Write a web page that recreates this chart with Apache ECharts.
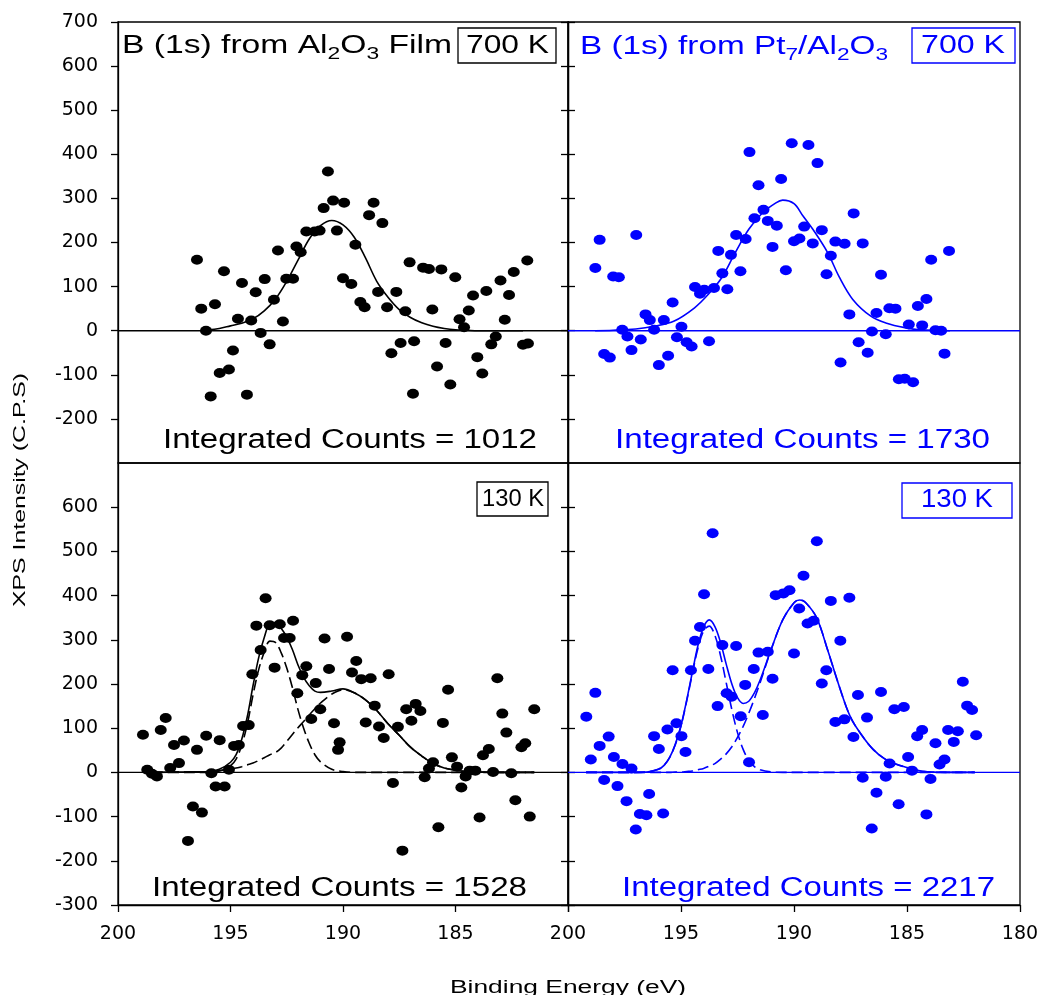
<!DOCTYPE html>
<html>
<head>
<meta charset="utf-8">
<script src="https://cdn.jsdelivr.net/npm/echarts@6/dist/echarts.min.js"></script>
<style>html,body{margin:0;padding:0;background:#fff}#chart{width:1044px;height:995px}</style>
</head>
<body>
<div id="chart"></div>
<script>
var BLACK = '#000000', BLUE = '#0000ff'
var FONT = '"Liberation Sans", Arial, sans-serif'

// ---- data: [binding energy (eV), intensity (C.P.S)] ----
var tlPoints = [[190.67,361],[190.44,295],[190.86,278],[189.95,290],[191.63,225],[191.26,225],[191.04,227],[190.27,227],
  [192.89,182],[192.07,191],[191.88,178],[196.49,161],[195.29,135],[194.49,108],[193.48,117],[193.88,87],[192.52,118],
  [192.22,118],[190.0,119],[193.07,70],[196.3,50],[195.69,60],[194.67,27],[194.08,23],[192.67,21],[196.09,0],[193.66,-5],
  [193.26,-31],[194.89,-45],[195.48,-96],[195.07,-88],[195.88,-149],[194.27,-145],
  [188.64,290],[188.84,262],[188.25,244],[189.45,195],[189.63,106],[189.23,65],[189.04,53],[188.44,88],[187.63,88],
  [188.04,53],[187.23,44],[187.04,155],[186.44,143],[186.18,140],[185.63,139],[185.01,121],[186.03,48],[184.82,26],
  [184.62,8],[184.22,80],[184.41,46],[183.63,90],[183.0,114],[182.41,133],[181.81,159],[182.62,81],[182.81,25],
  [183.21,-13],[183.41,-31],[182.0,-32],[181.78,-29],[187.44,-28],[187.85,-51],[186.84,-24],[185.44,-28],[185.82,-81],
  [184.03,-60],[183.81,-97],[185.23,-122],[186.89,-143]]

var trPoints = [[198.6,206],[198.79,142],[198.0,123],[197.75,121],[196.98,217],[198.4,-53],[198.15,-61],[197.19,-44],
  [197.6,2],[197.37,-13],[196.78,-20],[196.57,37],[196.38,24],[196.19,2],[195.76,24],[195.98,-78],[195.57,-57],[195.37,64],
  [194.98,9],[195.18,-15],[194.75,-26],[194.53,-36],[193.76,-24],[194.38,99],[194.16,84],[193.97,93],[193.54,97],
  [192.95,94],[193.35,181],[193.17,130],[192.79,172],[192.37,135],[192.56,217],[192.14,208],[191.75,255],[191.35,274],
  [191.16,249],[190.76,238],[190.95,190],[190.36,137],[191.97,405],[191.57,330],[190.57,344],[190.1,425],
  [189.36,421],[188.96,380],[190.0,203],[189.76,209],[189.55,236],[188.77,228],[189.17,198],[188.17,202],[187.76,197],
  [186.96,198],[187.36,266],[188.37,170],[188.56,128],[186.15,127],[187.55,37],[186.35,40],[185.78,51],[185.51,50],
  [186.55,-2],[185.94,-8],[187.14,-26],[186.74,-50],[187.94,-72],[184.92,14],[184.33,12],[184.52,56],[184.14,72],
  [183.93,161],[183.14,181],[183.74,1],[183.49,0],[183.34,-52],[185.36,-110],[185.1,-109],[184.73,-117]]

var blPoints = [[193.44,394],[193.85,332],[193.26,333],[192.81,335],[192.22,343],[192.62,304],[192.37,304],[190.82,303],
  [189.82,307],[193.66,277],[193.04,237],[191.63,240],[190.62,234],[191.81,220],[191.21,202],[194.03,222],[192.03,179],
  [191.01,143],[191.41,121],[190.4,111],[190.15,68],[190.22,51],[194.44,105],[194.19,107],[194.84,60],[194.63,62],
  [197.88,123],[198.1,96],[198.89,85],[197.51,62],[197.07,72],[196.49,51],[196.08,83],[195.48,73],[197.68,10],[197.29,21],
  [198.7,6],[198.49,-3],[198.27,-9],[195.85,-2],[195.07,6],[195.66,-32],[195.26,-32],[196.67,-77],[196.27,-91],[196.89,-155],
  [189.41,252],[189.6,226],[189.19,211],[188.77,213],[187.97,222],[188.59,151],[188.99,113],[188.4,104],[188.19,78],
  [187.56,103],[187.19,143],[186.77,155],[186.56,139],[186.96,117],[185.33,187],[185.56,112],[186.0,23],[186.18,9],
  [186.37,-11],[185.16,34],[184.93,13],[184.55,-9],[184.37,4],[184.12,4],[184.74,-34],[187.78,-24],[185.76,-124],
  [187.36,-177],[183.78,39],[183.52,53],[183.33,1],[182.52,-2],[183.93,-102],[183.14,213],[182.92,133],[182.74,90],
  [182.07,57],[181.9,66],[181.5,143],[182.34,-63],[181.7,-100]]

var brPoints = [[193.6,541],[193.98,403],[194.16,329],[194.38,298],[193.17,288],[192.56,286],[195.37,231],[194.56,231],
  [193.79,234],[191.57,271],[191.16,273],[191.78,234],[190.95,212],[192.16,198],[192.98,179],[192.76,171],[193.38,150],
  [192.36,127],[191.38,130],[190.81,401],[190.47,405],[190.2,412],[190.0,269],[195.2,111],[195.6,97],[194.98,82],
  [196.19,82],[195.98,53],[194.8,46],[191.99,23],[198.79,180],[199.19,126],[198.6,60],[198.2,81],[198.99,29],[197.97,35],
  [197.59,19],[197.19,9],[198.4,-17],[197.81,-31],[197.41,-65],[196.41,-49],[196.82,-94],[196.53,-97],[195.79,-93],[197.0,-129],
  [188.99,523],[189.58,445],[189.77,371],[189.4,337],[189.13,343],[188.37,388],[187.55,395],[187.95,298],[188.57,231],
  [188.77,201],[187.17,175],[186.15,182],[188.17,114],[187.77,120],[186.77,124],[187.37,80],[185.56,143],[185.14,148],
  [185.77,20],[184.95,35],[184.78,4],[183.96,-15],[186.96,-12],[185.94,-10],[186.35,-46],[185.37,-72],[186.56,-127],
  [184.14,-95],[184.55,82],[184.33,96],[183.74,66],[183.56,18],[183.34,29],[183.18,96],[182.75,93],[182.93,69],
  [182.53,205],[182.34,151],[182.12,141],[181.94,84]]

// fitted curves, read at sample energies
var tlFitX = [196,195.5,195,194.5,194,193.5,193,192.5,192,191.5,191,190.5,190,189.5,189,188.5,188,187.5,187,186.5,186,185.5,185,184.5,184,183,182]
var tlFitY = [2,5,11,17,27,45,72,112,160,208,238,250,240,212,165,112,76,48,30,18,10,5,2,1,0,0,0]

var trFitX = [198.8,198,197,196.2,195.3,194.4,193.8,193.2,192.6,192,191.4,190.8,190.5,190,189.6,189.1,188.5,188,187.4,186.6,185.9,185.1,184.4,183.1]
var trFitY = [0,1,4,10,22,52,82,120,177,230,267,290,296,288,260,225,176,122,71,33,17,7,2,0]

var blFitX = [198.5,197,196,195.5,195,194.75,194.5,194.25,194,193.75,193.5,193.25,193,192.75,192.5,192.25,192,191.75,191.5,191.25,191,190.5,190,189.5,189,188.5,188,187.5,187,186.5,186,185.5,185,184.5,184,183,182,181.5]
var blFitSum = [0,1,2,7,23,40,75,127,196,259,305,337,339,326,306,278,243,215,196,184,181,184,189,180,164,140,110,84,57,37,20,10,5,2,1,0,0,0]
var blPeak1 = [0,0,0,3,15,30,62,110,175,232,272,297,294,271,236,192,142,100,66,40,24,7,2,0,0,0,0,0,0,0,0,0,0,0,0,0,0,0]
var blPeak2 = [0,1,2,4,8,10,13,17,21,27,33,40,45,55,70,86,101,115,130,144,157,177,187,180,164,140,110,84,57,37,20,10,5,2,1,0,0,0]

var brFitX = [199.2,198,197,196.5,196,195.75,195.5,195.25,195,194.75,194.5,194.25,194,193.75,193.5,193.25,193,192.75,192.5,192.25,192,191.75,191.5,191,190.5,190,189.75,189.5,189,188.5,188,187.5,187,186.5,186,185.5,185,184.5,184,183,182]
var brFitSum = [0,0,0,1,7,16,34,64,106,163,226,287,329,345,330,294,245,200,169,156,161,180,209,280,345,384,390,385,350,275,195,125,84,52,31,19,11,4,1,0,0]
var brPeak1 = [0,0,0,1,7,16,34,63,105,161,223,281,320,331,310,264,203,142,90,52,27,13,6,1,0,0,0,0,0,0,0,0,0,0,0,0,0,0,0,0,0]
var brPeak2 = [0,0,0,0,0,0,0,1,1,2,3,6,9,14,20,30,42,58,79,104,134,167,203,279,345,384,390,385,350,275,195,125,84,52,31,19,11,4,1,0,0]

var yTicksTop = [-200,-100,0,100,200,300,400,500,600,700]
var yTicksBottom = [-300,-200,-100,0,100,200,300,400,500,600]
var xTicksLeft = [200,195,190,185]
var xTicksRight = [200,195,190,185,180]

function zip(xs, ys) {
  return xs.map(function (x, i) { return [x, ys[i]] })
}

var chart = echarts.init(document.getElementById('chart'), null, {renderer: 'canvas'})

var grids = [
  {left: 118, top: 22, width: 450, height: 441},
  {left: 568, top: 22, width: 452, height: 441},
  {left: 118, top: 463, width: 450, height: 442},
  {left: 568, top: 463, width: 452, height: 442}
]
var axisLine = {show: true, lineStyle: {color: BLACK, width: 1.3}}

var xAxes = [], yAxes = []
grids.forEach(function (g, i) {
  var bottomRow = i > 1, leftCol = i % 2 === 0
  var xt = leftCol ? xTicksLeft : xTicksRight
  xAxes.push({
    gridIndex: i, type: 'value', min: 180, max: 200, interval: 5, inverse: true,
    axisLine: {show: bottomRow, onZero: false, lineStyle: {color: BLACK, width: 1.3}},
    axisTick: {show: bottomRow, length: 7, customValues: xTicksRight, lineStyle: {color: BLACK, width: 1.3}},
    axisLabel: {show: bottomRow, customValues: xt, margin: 20, fontSize: 19, fontFamily: 'DejaVu Sans', color: BLACK},
    splitLine: {show: false}
  })
  var yt = bottomRow ? yTicksBottom : yTicksTop
  yAxes.push({
    gridIndex: i, type: 'value', min: -300, max: 700, interval: 100, position: 'left',
    axisLine: axisLine,
    axisTick: {inside: !leftCol, length: 7, customValues: yt, lineStyle: {color: BLACK, width: 1.3}},
    axisLabel: {show: leftCol, customValues: yt, margin: 20, fontSize: 19, fontFamily: 'DejaVu Sans', color: BLACK},
    splitLine: {show: false}
  })
})
// inward ticks on the middle divider, left side
;[0, 2].forEach(function (i) {
  yAxes.push({
    gridIndex: i, type: 'value', min: -300, max: 700, interval: 100, position: 'right',
    axisLine: axisLine,
    axisTick: {inside: true, length: 7, customValues: i ? yTicksBottom : yTicksTop, lineStyle: {color: BLACK, width: 1.3}},
    axisLabel: {show: false}, splitLine: {show: false}
  })
})

var series = []
function addPanel(i, color, points, curves) {
  series.push({
    type: 'line', xAxisIndex: i, yAxisIndex: i, data: [[200, 0], [180, 0]], showSymbol: false, silent: true,
    lineStyle: {color: color, width: 1.4}, z: 2
  })
  curves.forEach(function (c) {
    series.push({
      type: 'line', xAxisIndex: i, yAxisIndex: i, data: c.data, showSymbol: false, smooth: 0.35, silent: true,
      lineStyle: {color: color, width: 1.6, type: c.dashed ? [11, 5] : 'solid'}, z: 3
    })
  })
  series.push({
    type: 'scatter', xAxisIndex: i, yAxisIndex: i, data: points, symbol: 'circle', symbolSize: [12, 10],
    itemStyle: {color: color, opacity: 1}, silent: true, z: 4
  })
}
addPanel(0, BLACK, tlPoints, [{data: zip(tlFitX, tlFitY)}])
addPanel(1, BLUE, trPoints, [{data: zip(trFitX, trFitY)}])
addPanel(2, BLACK, blPoints, [{data: zip(blFitX, blFitSum)}, {data: zip(blFitX, blPeak1), dashed: true}, {data: zip(blFitX, blPeak2), dashed: true}])
addPanel(3, BLUE, brPoints, [{data: zip(brFitX, brFitSum)}, {data: zip(brFitX, brPeak1), dashed: true}, {data: zip(brFitX, brPeak2), dashed: true}])

// ---- text: the figure's lettering is wide, so each label is stretched to its width ----
var measureCtx = document.createElement('canvas').getContext('2d')
function measure(parts, size) {
  var w = 0
  parts.forEach(function (p) {
    measureCtx.font = (p[1] ? Math.round(size * 0.68) : size) + 'px ' + FONT
    w += measureCtx.measureText(p[0]).width
  })
  return w
}
function label(parts, left, right, cy, size, color) {
  var text = parts.map(function (p) { return '{' + (p[1] ? 's' : 'm') + '|' + p[0] + '}' }).join('')
  return {
    type: 'text', x: left, y: cy - size / 2, scaleX: (right - left) / measure(parts, size), silent: true, z: 100,
    style: {
      text: text, align: 'left', verticalAlign: 'top',
      rich: {
        m: {fontSize: size, fontFamily: FONT, fill: color, verticalAlign: 'top'},
        s: {fontSize: Math.round(size * 0.68), fontFamily: FONT, fill: color, verticalAlign: 'top', padding: [Math.round(size * 0.48), 0, 0, 0]}
      }
    }
  }
}
function box(x, y, w, h, color) {
  return {type: 'rect', shape: {x: x, y: y, width: w, height: h}, silent: true, z: 99,
    style: {fill: '#fff', stroke: color, lineWidth: 1.3}}
}

var graphics = [
  label([['B (1s) from Al', 0], ['2', 1], ['O', 0], ['3', 1], [' Film', 0]], 122, 452, 46, 25, BLACK),
  box(458, 28, 98, 35, BLACK),
  label([['700 K', 0]], 466, 549, 46, 25, BLACK),
  label([['B (1s) from Pt', 0], ['7', 1], ['/Al', 0], ['2', 1], ['O', 0], ['3', 1]], 580, 888, 47, 25, BLUE),
  box(912, 28, 103, 35, BLUE),
  label([['700 K', 0]], 921, 1005, 46, 25, BLUE),
  box(477, 482, 71, 34, BLACK),
  label([['130 K', 0]], 482, 544, 499, 24, BLACK),
  box(902, 483, 110, 35, BLUE),
  label([['130 K', 0]], 921, 993, 500, 25, BLUE),
  label([['Integrated Counts = 1012', 0]], 163, 537, 441, 27, BLACK),
  label([['Integrated Counts = 1730', 0]], 615, 990, 441, 27, BLUE),
  label([['Integrated Counts = 1528', 0]], 152, 527, 889, 27, BLACK),
  label([['Integrated Counts = 2217', 0]], 622, 995, 889, 27, BLUE),
  label([['Binding Energy (eV)', 0]], 450, 686, 988, 18, BLACK),
  {
    type: 'text', x: 20, y: 490, rotation: Math.PI / 2, silent: true, z: 100,
    scaleX: 234 / measure([['XPS Intensity (C.P.S)', 0]], 17),
    style: {text: 'XPS Intensity (C.P.S)', font: '17px ' + FONT, fill: BLACK, align: 'center', verticalAlign: 'middle'}
  }
]

chart.setOption({
  animation: false,
  backgroundColor: '#fff',
  grid: grids.map(function (g) {
    return {left: g.left, top: g.top, width: g.width, height: g.height, show: true, borderColor: BLACK, borderWidth: 1.3,
      backgroundColor: 'transparent', containLabel: false, outerBoundsMode: 'none'}
  }),
  xAxis: xAxes,
  yAxis: yAxes,
  series: series,
  graphic: graphics
})
</script>
</body>
</html>
